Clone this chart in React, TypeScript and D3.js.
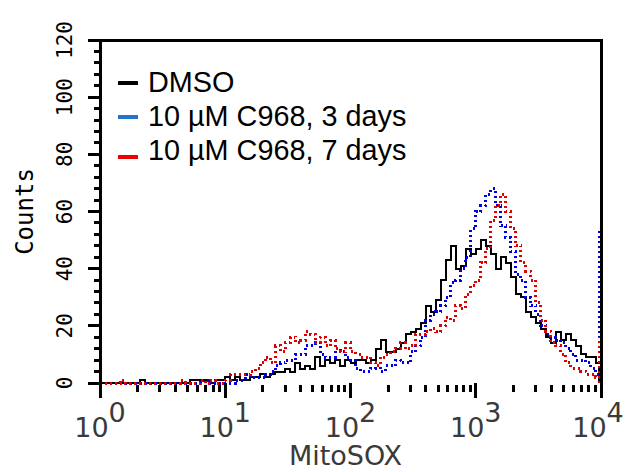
import React from "react";
import * as d3 from "d3";

const WIDTH = 627;
const HEIGHT = 472;

// 100 log-spaced channels from 10^0 to 10^4 (0.04 decade per channel)
const CHANNELS = 100;

const dmsoCounts = [
  0, 0, 0, 0, 0, 0, 0, 0, 1, 0,
  0, 0, 0, 0, 0, 0, 0, 0, 1, 1,
  1, 1, 0, 1, 1, 2, 1, 2, 1, 1,
  2, 2, 3, 2, 3, 4, 4, 5, 4, 7,
  5, 6, 5, 9, 6, 8, 7, 8, 6, 8,
  7, 8, 8, 7, 8, 12, 15, 11, 11, 12,
  14, 17, 18, 19, 21, 27, 25, 29, 36, 43,
  48, 40, 41, 47, 45, 47, 50, 48, 45, 40,
  44, 42, 37, 31, 30, 25, 23, 21, 19, 16,
  14, 18, 15, 17, 15, 13, 10, 9, 9, 7,
];

const c968Day3Counts = [
  0, 0, 0, 0, 0, 0, 0, 0, 0, 0,
  0, 0, 0, 0, 0, 0, 0, 0, 0, 0,
  1, 1, 0, 0, 0, 0, 0, 1, 1, 3,
  2, 2, 2, 3, 4, 6, 7, 8, 8, 10,
  10, 13, 13, 14, 10, 9, 9, 12, 11, 9,
  8, 5, 4, 4, 5, 6, 4, 6, 6, 8,
  7, 7, 11, 13, 16, 22, 24, 25, 27, 30,
  35, 36, 40, 44, 54, 60, 62, 66, 68, 62,
  55, 51, 46, 38, 36, 30, 27, 24, 20, 17,
  16, 15, 14, 12, 10, 8, 8, 7, 5, 3,
];

const c968Day7Counts = [
  0, 0, 0, 0, 1, 0, 0, 0, 0, 0,
  0, 0, 0, 0, 0, 0, 1, 0, 0, 0,
  1, 0, 1, 0, 0, 1, 3, 3, 3, 3,
  4, 5, 7, 9, 7, 13, 11, 14, 16, 14,
  15, 18, 17, 14, 16, 13, 15, 12, 11, 14,
  11, 10, 9, 9, 7, 6, 9, 10, 11, 12,
  14, 12, 13, 17, 17, 18, 19, 18, 20, 23,
  22, 27, 26, 31, 34, 36, 42, 47, 57, 62,
  66, 60, 54, 48, 42, 39, 36, 28, 22, 18,
  14, 13, 10, 7, 5, 5, 4, 3, 3, 2,
];

// Events collected in the top channel (at 10^4)
const overflowCounts = [6, 54, 16];

const seriesLabels = ["DMSO", "10 µM C968, 3 days", "10 µM C968, 7 days"];
const seriesColors = ["#000000", "#0000e6", "#e00000"];
const legendColors = ["#000000", "#2176c7", "#ee0000"];
const seriesData = [dmsoCounts, c968Day3Counts, c968Day7Counts];

const yTicks = [0, 20, 40, 60, 80, 100, 120];
const xDecades = [0, 1, 2, 3, 4];

export default function App() {
  const x = d3.scaleLog().domain([1, 1e4]).range([100, 601]);
  const y = d3.scaleLinear().domain([0, 120]).range([383, 40]);

  const edges = d3.range(CHANNELS + 1).map((i) => Math.pow(10, (4 * i) / CHANNELS));

  const line = d3
    .line<[number, number]>()
    .x((d) => x(d[0]))
    .y((d) => y(d[1]))
    .curve(d3.curveStepAfter);

  const pathFor = (counts: number[]) =>
    line(edges.map((e, i) => [e, counts[Math.min(i, counts.length - 1)]] as [number, number])) || "";

  const minorY = d3.range(0, 121, 4).filter((v) => v % 20 !== 0);
  const minorX: number[] = [];
  for (let d = 0; d < 4; d++) {
    for (let m = 2; m <= 9; m++) minorX.push(m * Math.pow(10, d));
  }

  const plotTop = y(120);
  const plotBottom = y(0);
  const left = x(1);
  const right = x(1e4);

  return (
    <svg
      width={WIDTH}
      height={HEIGHT}
      style={{ position: "absolute", left: 0, top: 0, background: "#fff" }}
    >
      <rect x={0} y={0} width={WIDTH} height={HEIGHT} fill="#fff" />

      {/* histograms */}
      {seriesData.map((counts, k) => (
        <g key={k}>
          <path
            d={pathFor(counts)}
            fill="none"
            stroke={seriesColors[k]}
            strokeWidth={k === 0 ? 2 : 3}
            strokeDasharray={k === 0 ? undefined : "2 3"}
            shapeRendering="crispEdges"
          />
          <line
            x1={right - 2}
            x2={right - 2}
            y1={y(0)}
            y2={y(overflowCounts[k])}
            stroke={seriesColors[k]}
            strokeWidth={3}
            strokeDasharray={k === 0 ? undefined : "2 3"}
            shapeRendering="crispEdges"
          />
        </g>
      ))}

      {/* frame */}
      <path
        d={`M${left},${plotBottom}V${plotTop}H${right}V${plotBottom}`}
        fill="none"
        stroke="#000"
        strokeWidth={3}
        shapeRendering="crispEdges"
      />

      {/* y axis ticks */}
      {yTicks.map((v) => (
        <line key={"yt" + v} x1={88} x2={left} y1={y(v)} y2={y(v)} stroke="#000" strokeWidth={3} shapeRendering="crispEdges" />
      ))}
      {minorY.map((v) => (
        <line key={"ym" + v} x1={94} x2={left} y1={y(v)} y2={y(v)} stroke="#000" strokeWidth={3} shapeRendering="crispEdges" />
      ))}
      {yTicks.map((v) => (
        <text
          key={"yl" + v}
          transform={`translate(72,${y(v)}) rotate(-90)`}
          textAnchor="middle"
          fontFamily="'DejaVu Sans Mono', monospace"
          fontSize={21}
          fill="#000"
        >
          {v}
        </text>
      ))}
      <text
        transform={`translate(33,${(plotTop + plotBottom) / 2}) rotate(-90)`}
        textAnchor="middle"
        fontFamily="'DejaVu Sans Mono', monospace"
        fontSize={24}
        fill="#000"
      >
        Counts
      </text>

      {/* x axis ticks */}
      {xDecades.map((d) => (
        <line
          key={"xt" + d}
          x1={x(Math.pow(10, d))}
          x2={x(Math.pow(10, d))}
          y1={plotBottom}
          y2={398}
          stroke="#000"
          strokeWidth={3}
          shapeRendering="crispEdges"
        />
      ))}
      {minorX.map((v, i) => (
        <line
          key={"xm" + i}
          x1={x(v)}
          x2={x(v)}
          y1={385}
          y2={392}
          stroke="#000"
          strokeWidth={3}
          shapeRendering="crispEdges"
        />
      ))}
      {xDecades.map((d) => (
        <text
          key={"xl" + d}
          x={x(Math.pow(10, d)) - (d === 4 ? 3 : 0)}
          y={437}
          textAnchor="middle"
          fontFamily="'DejaVu Sans', sans-serif"
          fontSize={27}
          fill="#3a3a3a"
        >
          10
          <tspan dy={-15}>{d}</tspan>
        </text>
      ))}
      <text
        x={(left + right) / 2 - 5}
        y={465}
        textAnchor="middle"
        fontFamily="'DejaVu Sans', sans-serif"
        fontSize={27}
        fill="#3a3a3a"
      >
        MitoSOX
      </text>

      {/* legend */}
      {seriesLabels.map((label, k) => {
        const base = 92 + k * 34;
        const markY = [83, 117, 157][k];
        return (
          <g key={"lg" + k}>
            <line x1={118} x2={138} y1={markY} y2={markY} stroke={legendColors[k]} strokeWidth={4} shapeRendering="crispEdges" />
            <text x={148} y={base} fontFamily="'Liberation Sans', Arial, sans-serif" fontSize={28.8} fill="#000">
              {label}
            </text>
          </g>
        );
      })}
    </svg>
  );
}
